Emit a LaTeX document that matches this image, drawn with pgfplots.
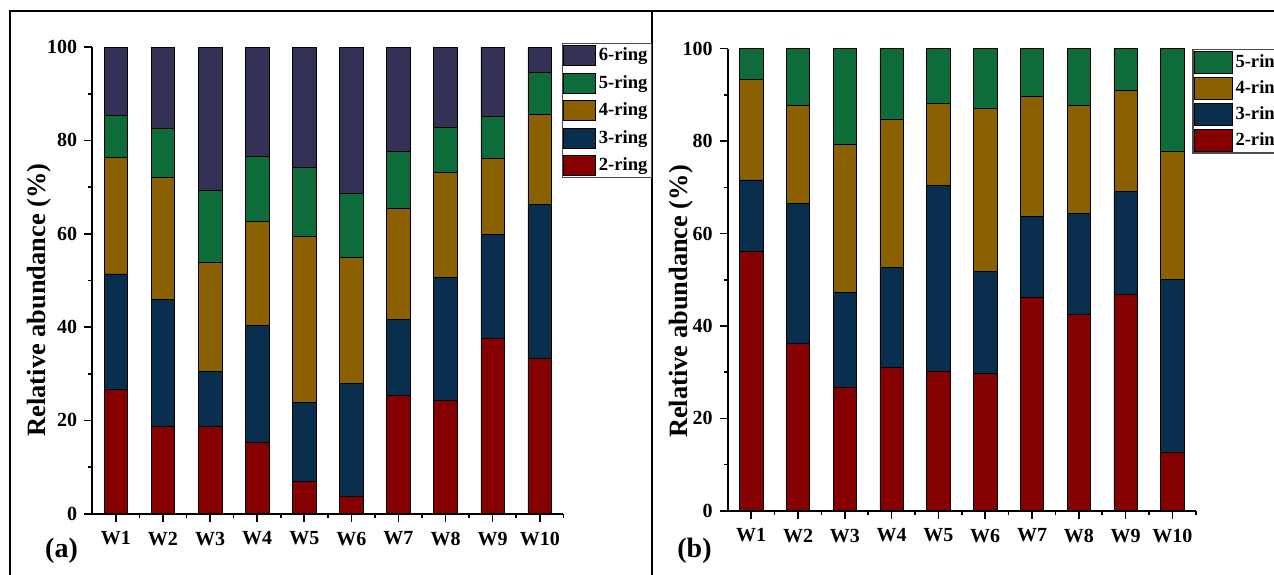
\documentclass[border=0pt]{standalone}
\usepackage{pgfplots}
\pgfplotsset{compat=1.18}
\usepackage{pgfplotstable}
\usepackage{fontspec}
\setmainfont{Liberation Serif}
\definecolor{cTwo}{RGB}{133,0,0}
\definecolor{cThree}{RGB}{10,46,78}
\definecolor{cFour}{RGB}{138,96,0}
\definecolor{cFive}{RGB}{14,107,58}
\definecolor{cSix}{RGB}{51,49,85}
\pgfplotstableread{
x r2 r3 r4 r5 r6
1 26.6 24.8 24.9 9.1 14.6
2 18.7 27.3 26.1 10.4 17.5
3 18.7 11.8 23.3 15.5 30.7
4 15.2 25.1 22.3 13.9 23.5
5 7.0 16.9 35.6 14.7 25.8
6 3.8 24.2 26.9 13.8 31.3
7 25.3 16.4 23.7 12.2 22.4
8 24.3 26.3 22.6 9.7 17.1
9 37.5 22.4 16.2 9.0 14.9
10 33.2 33.1 19.2 9.1 5.4
}\dataA
\pgfplotstableread{
x r2 r3 r4 r5
1 56.2 15.4 21.7 6.7
2 36.2 30.3 21.2 12.3
3 26.8 20.5 32.0 20.7
4 31.1 21.6 32.1 15.2
5 30.1 40.3 17.8 11.8
6 29.8 22.0 35.4 12.8
7 46.1 17.6 26.0 10.3
8 42.5 21.8 23.4 12.3
9 46.9 22.2 22.0 8.9
10 12.7 37.4 27.8 22.1
}\dataB
\pgfplotsset{
  common/.style={
    anchor=south west, scale only axis,
    ybar stacked, bar width=0.5,
    xmin=0.5, xmax=10.5, ymin=0, ymax=100,
    axis lines*=left,
    axis line style={line width=1pt},
    tick align=outside,
    ytick={0,20,40,60,80,100},
    minor ytick={10,30,50,70,90},
    xtick={1,...,10},
    xticklabels={W1,W2,W3,W4,W5,W6,W7,W8,W9,W10},
    minor xtick={1.5,2.5,...,10.5},
    major tick length=4pt, minor tick length=2pt,
    tick style={black, line width=0.8pt},
    /pgf/number format/assume math mode=true,
    ticklabel style={font=\bfseries\fontsize{10}{11}\selectfont},
    xticklabel style={yshift=-1.5pt},
    ylabel={Relative abundance (\%)},
    ylabel style={font=\bfseries\fontsize{13.2}{14}\selectfont, anchor=center},
    every axis plot/.append style={draw=black, line width=0.3pt},
    reverse legend,
    legend cell align=left,
    legend style={draw=black!70, line width=0.6pt, inner sep=0.5pt,
      font=\bfseries\fontsize{9.3}{10}\selectfont, anchor=north west,
      nodes={inner sep=1.5pt}},
  }
}
\begin{document}
\begin{tikzpicture}
\path[use as bounding box] (0,0) rectangle (637pt,287pt);
\draw[line width=1pt] (5pt,-2pt) -- (5pt,281.5pt) -- (640pt,281.5pt);
\draw[line width=1pt] (326pt,-2pt) -- (326pt,281.5pt);
\begin{axis}[common,
  at={(46.15pt,30.15pt)}, width=235.5pt, height=233.3pt,
  ylabel style={at={(axis description cs:-0.113,0.458)}},
  legend style={at={(0.9966,1.0088)}, row sep=2.8pt},
  legend image code/.code={\draw[#1] (0pt,-5pt) rectangle (16pt,5pt);},
]
\addplot[fill=cTwo] table[x=x,y=r2]{\dataA};
\addplot[fill=cThree] table[x=x,y=r3]{\dataA};
\addplot[fill=cFour] table[x=x,y=r4]{\dataA};
\addplot[fill=cFive] table[x=x,y=r5]{\dataA};
\addplot[fill=cSix] table[x=x,y=r6]{\dataA};
\legend{2-ring,3-ring,4-ring,5-ring,6-ring}
\end{axis}
\begin{axis}[common,
  at={(363.9pt,31.65pt)}, width=234pt, height=231pt,
  ylabel style={at={(axis description cs:-0.100,0.453)}},
  legend style={at={(0.9925,0.9987)}, row sep=1.8pt},
  legend image code/.code={\draw[#1] (0pt,-5.5pt) rectangle (19pt,5.5pt);},
]
\addplot[fill=cTwo] table[x=x,y=r2]{\dataB};
\addplot[fill=cThree] table[x=x,y=r3]{\dataB};
\addplot[fill=cFour] table[x=x,y=r4]{\dataB};
\addplot[fill=cFive] table[x=x,y=r5]{\dataB};
\legend{2-ring,3-ring,4-ring,5-ring}
\end{axis}
\node[font=\bfseries\fontsize{14}{16}\selectfont] at (30.75pt,11.5pt) {(a)};
\node[font=\bfseries\fontsize{14}{16}\selectfont] at (347.25pt,11.5pt) {(b)};
\end{tikzpicture}
\end{document}
